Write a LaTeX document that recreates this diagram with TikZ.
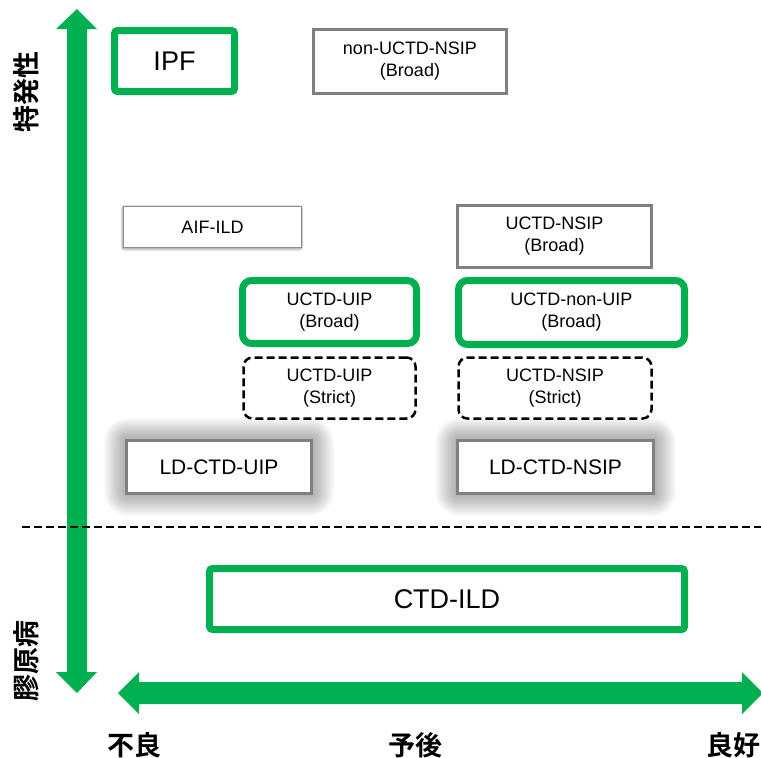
\documentclass[tikz,border=0pt]{standalone}
\usepackage{fontspec}
\setmainfont{Liberation Sans}
\newfontfamily\jp{Noto Sans CJK JP Bold}
\usetikzlibrary{calc,backgrounds}
\definecolor{axgreen}{HTML}{00B050}
\definecolor{bgray}{HTML}{808080}
\newcommand\fsz[2]{\fontsize{#1}{#2}\selectfont}
\tikzset{
  gbox/.style={draw=axgreen, line width=7pt, rounded corners=3pt, fill=white, inner sep=0pt, align=center},
  grbox/.style={draw=axgreen, line width=7pt, rounded corners=9pt, fill=white, inner sep=0pt, align=center, font=\fsz{18}{22}},
  graybox/.style={draw=bgray, line width=2.5pt, fill=white, inner sep=0pt, align=center, font=\fsz{18}{22}},
  thinbox/.style={draw=black!45, line width=0.8pt, fill=white, inner sep=0pt, align=center, font=\fsz{18}{22}},
  dashbox/.style={draw=black, line width=2.5pt, dash pattern=on 8pt off 4pt, rounded corners=9pt, fill=white, inner sep=0pt, align=center, font=\fsz{18}{22}},
  ldbox/.style={draw=bgray, line width=2.5pt, fill=white, inner sep=0pt, align=center, font=\fsz{21}{25}},
  axlabel/.style={font=\jp\fsz{27}{30}, inner sep=0pt},
  axis/.style={fill=axgreen, draw=none}
}
\begin{document}
\begin{tikzpicture}[x=1pt,y=-1pt]
\begin{scope}[on background layer]
\fill[white] (0,0) rectangle (761,758);
\end{scope}
\useasboundingbox (0,0) rectangle (761,758);

% axes
\coordinate (vtop) at (77,9);
\coordinate (vbot) at (77,693);
\coordinate (hleft) at (118,693);
\coordinate (hright) at (763,693);
\fill[axis] (67,29) -- (56,29) -- (vtop) -- (97,29) -- (87,29) -- (87,672) -- (97,672) -- (vbot) -- (56,672) -- (67,672) -- cycle;
\fill[axis] (hleft) -- (139,672) -- (139,682) -- (742,682) -- (742,672) -- (hright) -- (742,714) -- (742,704) -- (139,704) -- (139,714) -- cycle;

% dashed separator
\coordinate (dl) at (22,527);
\coordinate (dr) at (761,527);
\draw[black, line width=2pt, dash pattern=on 8pt off 4pt] (dl) -- (dr);

% boxes
\node[gbox, minimum width=120pt, minimum height=61pt, font=\fsz{27}{30}] (ipf) at (174.5,61) {IPF};
\node[graybox, minimum width=193pt, minimum height=64pt] (nonuctd) at (410,61.5) {non-UCTD-NSIP\\(Broad)};
\node[thinbox, minimum width=178pt, minimum height=41pt] (aif) at (212.5,227) {AIF-ILD};
\node[graybox, minimum width=194pt, minimum height=62pt] (uctdnsipb) at (554.5,236.5) {UCTD-NSIP\\(Broad)};
\node[grbox, minimum width=174pt, minimum height=63pt] (uctduipb) at (329.5,312) {UCTD-UIP\\(Broad)};
\node[grbox, minimum width=226pt, minimum height=64pt] (uctdnonuip) at (571.5,312.5) {UCTD-non-UIP\\(Broad)};
\node[dashbox, minimum width=172pt, minimum height=61pt] (uctduips) at (329.5,388) {UCTD-UIP\\(Strict)};
\node[dashbox, minimum width=193pt, minimum height=61pt] (uctdnsips) at (555,388) {UCTD-NSIP\\(Strict)};
\node[ldbox, minimum width=185pt, minimum height=53pt] (ldu) at (219,467) {LD-CTD-UIP};
\node[ldbox, minimum width=196pt, minimum height=53pt] (ldn) at (555.5,467) {LD-CTD-NSIP};
\node[gbox, minimum width=475pt, minimum height=61pt, font=\fsz{27}{30}] (ctdild) at (447,599) {CTD-ILD};

% shadows
\begin{scope}[on background layer]
\foreach \n in {ldu,ldn}{
  \foreach \d in {1,...,16}{
    \fill[black, opacity=0.02, rounded corners=1.6*\d pt]
      ($(\n.north west)+(-1.35*\d,-1.35*\d)$) rectangle ($(\n.south east)+(1.35*\d,1.35*\d)$);
  }
}
\foreach \d in {1,...,4}{
  \fill[black, opacity=0.08, rounded corners=\d pt]
    ($(aif.north west)+(-0.6*\d,-0.2*\d)$) rectangle ($(aif.south east)+(0.3*\d,0.8*\d)$);
}
\end{scope}

% axis labels
\node[axlabel, rotate=90] (tokuhatsu) at (26,92) {特発性};
\node[axlabel, rotate=90] (kougen) at (26,661) {膠原病};
\node[axlabel] (furyo) at (134,745) {不良};
\node[axlabel] (yogo) at (415,745) {予後};
\node[axlabel] (ryoko) at (733,745) {良好};
\end{tikzpicture}
\end{document}
